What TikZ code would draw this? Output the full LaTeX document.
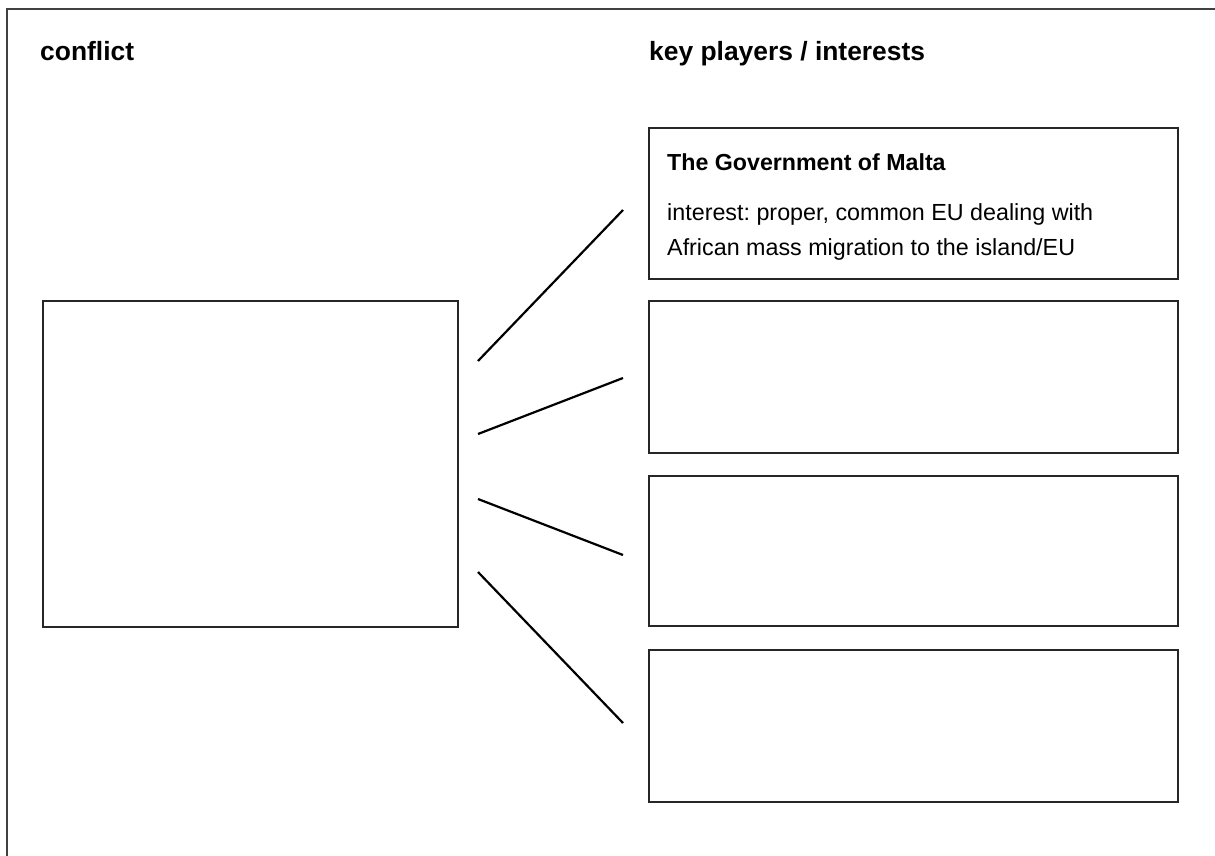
\documentclass[tikz,border=0pt]{standalone}
\usepackage{fontspec}
\setmainfont{Liberation Sans}
\frenchspacing
\begin{document}
\begin{tikzpicture}[x=1pt,y=-1pt,
  frameline/.style={draw=black!75,line width=2pt},
  box/.style={draw=black!85,line width=1.2pt,rectangle,anchor=north west,inner sep=0pt,outer sep=0pt},
  link/.style={draw=black,line width=2.2pt},
  heading/.style={anchor=base west,inner sep=0pt,font=\fontsize{26.4}{30}\selectfont\bfseries},
  title/.style={anchor=base west,inner sep=0pt,font=\fontsize{23.2}{28}\selectfont\bfseries},
  body/.style={anchor=base west,inner sep=0pt,font=\fontsize{23.3}{28}\selectfont}]
\useasboundingbox[fill=white] (0,0) rectangle (1215,856);
% frame (left and top edges)
\coordinate (fb) at (7,856);
\coordinate (fc) at (7,9);
\coordinate (fr) at (1215,9);
\draw[frameline] (fb) -- (fc) -- (fr);
% headings
\node[heading] (hconf) at (40,61) {conflict};
\node[heading] (hkey) at (649,61) {key players / interests};
% boxes
\node[box,minimum width=415pt,minimum height=326pt] (conf) at (43,301) {};
\node[box,minimum width=529pt,minimum height=151pt] (p1) at (649,128) {};
\node[box,minimum width=529pt,minimum height=152pt] (p2) at (649,301) {};
\node[box,minimum width=529pt,minimum height=150pt] (p3) at (649,476) {};
\node[box,minimum width=529pt,minimum height=152pt] (p4) at (649,650) {};
% text in first player box
\node[title] (t1) at (667,170) {The Government of Malta};
\node[body] (b1) at (667,220) {interest: proper, common EU dealing with};
\node[body] (b2) at (667,255) {African mass migration to the island/EU};
% connectors
\coordinate (a1) at (478,361); \coordinate (e1) at (623,210);
\coordinate (a2) at (478,434); \coordinate (e2) at (623,378);
\coordinate (a3) at (478,499); \coordinate (e3) at (623,555);
\coordinate (a4) at (478,572); \coordinate (e4) at (623,723);
\draw[link] (a1) -- (e1);
\draw[link] (a2) -- (e2);
\draw[link] (a3) -- (e3);
\draw[link] (a4) -- (e4);
\end{tikzpicture}
\end{document}
